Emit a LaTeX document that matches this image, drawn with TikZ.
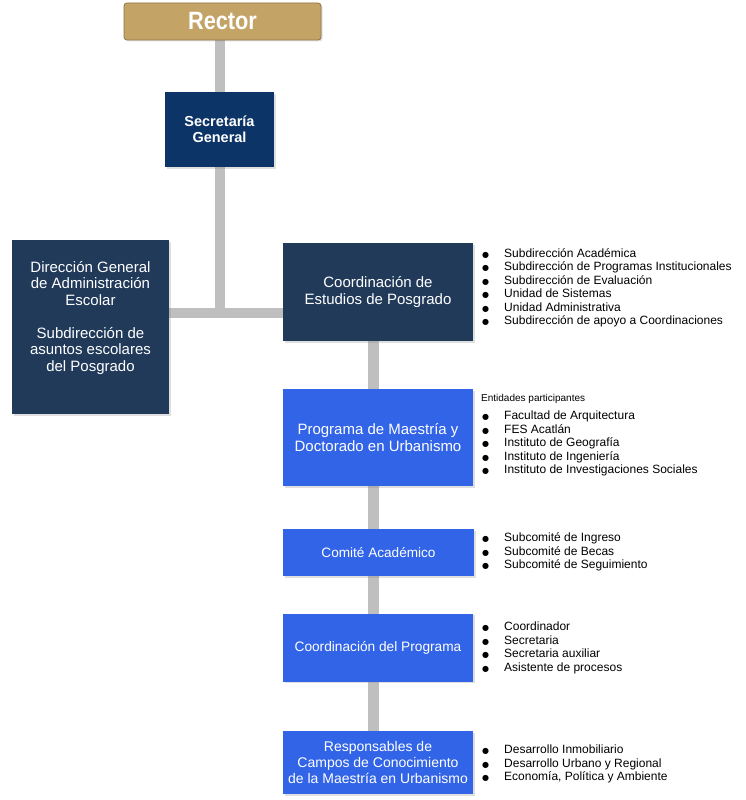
\documentclass[tikz,border=0pt]{standalone}
\usepackage{fontspec}
\setmainfont{Liberation Sans}
\newfontfamily\symfont{DejaVu Sans}
\usetikzlibrary{backgrounds,shadows}
\definecolor{gold}{HTML}{C4A466}
\definecolor{goldline}{HTML}{8C7445}
\definecolor{navy}{HTML}{0C3466}
\definecolor{slate}{HTML}{213A5A}
\definecolor{bright}{HTML}{3264E8}
\definecolor{connc}{HTML}{BFBFBF}
\newcommand\itm[1]{\makebox[21pt][l]{\hspace{-1.2pt}{\symfont\fontsize{8}{10}\selectfont ●}}#1}
\begin{document}
\begin{tikzpicture}[x=1pt,y=-1pt,
  box/.style={rectangle, inner sep=2pt, align=center, text=white,
    font=\fontsize{15}{16.5}\selectfont,
    drop shadow={opacity=0.25,shadow xshift=1.5pt,shadow yshift=-1.5pt}},
  darkbox/.style={box, fill=slate},
  bluebox/.style={box, fill=bright},
  listtxt/.style={anchor=base west, inner sep=0pt, font=\fontsize{12}{13.5}\selectfont},
  connline/.style={draw=connc, line width=10.5pt}]
\useasboundingbox (0,0) rectangle (745,800);

\node[rectangle, rounded corners=3pt, fill=gold, draw=goldline, line width=0.8pt,
  minimum width=197pt, minimum height=37pt, text=white,
  font=\bfseries\fontsize{25}{25}\selectfont,
  drop shadow={opacity=0.25,shadow xshift=1.5pt,shadow yshift=-1.5pt}] (rector) at (222.5,21.5) {\scalebox{0.87}[1]{Rector}};

\node[box, fill=navy, minimum width=109pt, minimum height=75pt,
  font=\bfseries\fontsize{14.5}{16.5}\selectfont] (sec) at (219.5,129.5) {Secretaría\\General};

\node[darkbox, minimum width=157pt, minimum height=174pt] (dga) at (90.5,327) {};
\node[text=white, align=center, inner sep=0pt, anchor=north,
  font=\fontsize{15}{16.5}\selectfont] (dgaT) at (90.5,261)
  {Dirección General\\de Administración\\Escolar\\[16.5pt]Subdirección de\\asuntos escolares\\del Posgrado};

\node[darkbox, minimum width=190pt, minimum height=98pt] (ceg) at (378,292) {Coordinación de\\Estudios de Posgrado};
\node[bluebox, minimum width=190pt, minimum height=97pt] (prog) at (378,437.5) {Programa de Maestría y\\Doctorado en Urbanismo};
\node[bluebox, minimum width=191pt, minimum height=47pt, font=\fontsize{13.6}{16}\selectfont] (com) at (378.5,552.5) {Comité Académico};
\node[bluebox, minimum width=190pt, minimum height=68pt, font=\fontsize{13.7}{16}\selectfont] (cpr) at (378,647.5) {Coordinación del Programa};
\node[bluebox, minimum width=190pt, minimum height=63pt, font=\fontsize{14}{16}\selectfont] (resp) at (378,762.5) {Responsables de\\Campos de Conocimiento\\de la Maestría en Urbanismo};

\coordinate (J) at (220,313);
\coordinate (V) at (373.5,0);
\begin{scope}[on background layer]
\draw[connline] (rector.south -| J) -- (J);
\draw[connline] (dga.east |- J) -- (ceg.west |- J);
\draw[connline] (ceg.south -| V) -- (resp.north -| V);
\end{scope}

\node[listtxt] (l1) at (483,257) {\begin{tabular}[t]{@{}l@{}}
\itm{Subdirección Académica}\\
\itm{Subdirección de Programas Institucionales}\\
\itm{Subdirección de Evaluación}\\
\itm{Unidad de Sistemas}\\
\itm{Unidad Administrativa}\\
\itm{Subdirección de apoyo a Coordinaciones}
\end{tabular}};

\node[anchor=base west, inner sep=0pt, font=\fontsize{10}{12}\selectfont] (ent) at (481,401) {Entidades participantes};
\node[listtxt] (l2) at (483,419.5) {\begin{tabular}[t]{@{}l@{}}
\itm{Facultad de Arquitectura}\\
\itm{FES Acatlán}\\
\itm{Instituto de Geografía}\\
\itm{Instituto de Ingeniería}\\
\itm{Instituto de Investigaciones Sociales}
\end{tabular}};

\node[listtxt] (l3) at (483,541.5) {\begin{tabular}[t]{@{}l@{}}
\itm{Subcomité de Ingreso}\\
\itm{Subcomité de Becas}\\
\itm{Subcomité de Seguimiento}
\end{tabular}};

\node[listtxt] (l4) at (483,630.5) {\begin{tabular}[t]{@{}l@{}}
\itm{Coordinador}\\
\itm{Secretaria}\\
\itm{Secretaria auxiliar}\\
\itm{Asistente de procesos}
\end{tabular}};

\node[listtxt] (l5) at (483,753.5) {\begin{tabular}[t]{@{}l@{}}
\itm{Desarrollo Inmobiliario}\\
\itm{Desarrollo Urbano y Regional}\\
\itm{Economía, Política y Ambiente}
\end{tabular}};
\end{tikzpicture}
\end{document}
